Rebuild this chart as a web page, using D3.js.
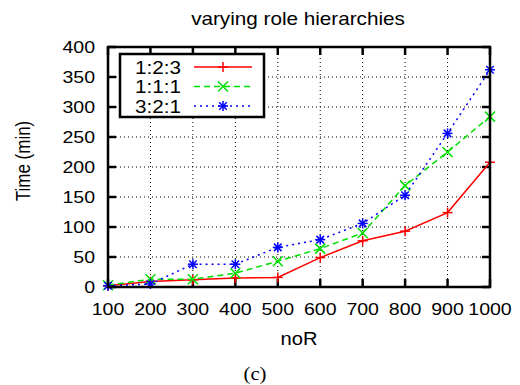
<!DOCTYPE html>
<html>
<head>
<meta charset="utf-8">
<script src="https://cdn.jsdelivr.net/npm/d3@7"></script>
<style>
  body { margin: 0; background: #fff; }
  svg { display: block; }
</style>
</head>
<body>
<div id="chart"></div>
<script>
// data
const noR = [100, 200, 300, 400, 500, 600, 700, 800, 900, 1000];
const ratio123 = [2, 9, 12, 15, 16, 49, 77, 93, 124, 208];
const ratio111 = [3, 13, 13, 23, 43, 64, 90, 169, 225, 284];
const ratio321 = [2, 5, 38, 38, 66, 79, 106, 153, 256, 362];
const seriesNames = ['1:2:3', '1:1:1', '3:2:1'];
const yTicks = [0, 50, 100, 150, 200, 250, 300, 350, 400];

const width = 520, height = 385;
const margin = { top: 47, right: 30, bottom: 98, left: 108 };
const font = 'Liberation Sans, Arial, Helvetica, sans-serif';
const stretch = 1.15; // the reference glyphs are a bit wider than Liberation Sans

const svg = d3.select('#chart').append('svg')
    .attr('width', width)
    .attr('height', height)
    .style('font-family', font);

const x = d3.scaleLinear().domain([100, 1000]).range([margin.left, width - margin.right]);
const y = d3.scaleLinear().domain([0, 400]).range([height - margin.bottom, margin.top]);

const series = [
    { name: seriesNames[0], values: ratio123, color: '#ff0000', dash: null, mark: 'plus' },
    { name: seriesNames[1], values: ratio111, color: '#00e000', dash: '6,4', mark: 'cross' },
    { name: seriesNames[2], values: ratio321, color: '#0000ff', dash: '2,4', mark: 'star' }
];

// text helper: place at (tx, ty), widen horizontally
function label(parent, tx, ty, str, size, anchor) {
    return parent.append('text')
        .attr('transform', `translate(${tx},${ty}) scale(${stretch},1)`)
        .attr('text-anchor', anchor || 'middle')
        .style('font-size', size + 'px')
        .text(str);
}

// grid
const grid = svg.append('g')
    .attr('stroke', '#000')
    .attr('stroke-width', 1)
    .attr('stroke-dasharray', '1,3');
grid.selectAll('line.v')
    .data(noR.slice(1, -1))
    .join('line')
    .attr('x1', d => x(d)).attr('x2', d => x(d))
    .attr('y1', y(0)).attr('y2', y(400));
grid.selectAll('line.h')
    .data(yTicks.slice(1, -1))
    .join('line')
    .attr('class', 'h')
    .attr('x1', x(100)).attr('x2', x(1000))
    .attr('y1', d => y(d)).attr('y2', d => y(d));

// ticks on all four sides, pointing inward
const ticks = svg.append('g').attr('stroke', '#000').attr('stroke-width', 2.5);
noR.forEach(v => {
    ticks.append('line').attr('x1', x(v)).attr('x2', x(v)).attr('y1', y(0)).attr('y2', y(0) - 8);
    ticks.append('line').attr('x1', x(v)).attr('x2', x(v)).attr('y1', y(400)).attr('y2', y(400) + 8);
});
yTicks.forEach(v => {
    ticks.append('line').attr('x1', x(100)).attr('x2', x(100) + 8).attr('y1', y(v)).attr('y2', y(v));
    ticks.append('line').attr('x1', x(1000)).attr('x2', x(1000) - 8).attr('y1', y(v)).attr('y2', y(v));
});

// tick labels
const xLabels = svg.append('g');
noR.forEach(v => label(xLabels, x(v), y(0) + 28, v, 17));
const yLabels = svg.append('g');
yTicks.forEach(v => label(yLabels, x(100) - 13, y(v) + 6, v, 17, 'end'));

// titles
label(svg, 298, 25, 'varying role hierarchies', 18);
label(svg, (x(100) + x(1000)) / 2, 345, 'noR', 17.5);

svg.append('text')
    .attr('transform', `translate(30,161) scale(${stretch},1) rotate(-90)`)
    .attr('text-anchor', 'middle')
    .style('font-size', '17px')
    .text('Time (min)');

label(svg, 255, 380, '(c)', 18)
    .style('font-family', 'Liberation Serif, Times New Roman, serif');

// point markers
function drawMark(g, kind, cx, cy, color) {
    const s = 5;
    const m = g.append('g').attr('stroke', color).attr('stroke-width', 1.5);
    if (kind === 'plus' || kind === 'star') {
        m.append('line').attr('x1', cx - s).attr('x2', cx + s).attr('y1', cy).attr('y2', cy);
        m.append('line').attr('x1', cx).attr('x2', cx).attr('y1', cy - s).attr('y2', cy + s);
    }
    if (kind === 'cross' || kind === 'star') {
        const d = kind === 'star' ? s * 0.75 : s;
        m.append('line').attr('x1', cx - d).attr('x2', cx + d).attr('y1', cy - d).attr('y2', cy + d);
        m.append('line').attr('x1', cx - d).attr('x2', cx + d).attr('y1', cy + d).attr('y2', cy - d);
    }
}

const line = d3.line().x((d, i) => x(noR[i])).y(d => y(d));
const plot = svg.append('g');
series.forEach(s => {
    plot.append('path')
        .datum(s.values)
        .attr('d', line)
        .attr('fill', 'none')
        .attr('stroke', s.color)
        .attr('stroke-width', 1.5)
        .attr('stroke-dasharray', s.dash);
    s.values.forEach((v, i) => drawMark(plot, s.mark, x(noR[i]), y(v), s.color));
});

// frame
svg.append('rect')
    .attr('x', x(100)).attr('y', y(400))
    .attr('width', x(1000) - x(100))
    .attr('height', y(0) - y(400))
    .attr('fill', 'none')
    .attr('stroke', '#000')
    .attr('stroke-width', 2.5);

// legend
const legend = svg.append('g');
legend.append('rect')
    .attr('x', 120).attr('y', 54)
    .attr('width', 144).attr('height', 63)
    .attr('fill', '#fff')
    .attr('stroke', '#000')
    .attr('stroke-width', 2.5);
series.forEach((s, i) => {
    const ly = 67 + i * 19.5;
    label(legend, 181, ly + 6.5, s.name, 18, 'end');
    legend.append('line')
        .attr('x1', 194).attr('x2', 252)
        .attr('y1', ly).attr('y2', ly)
        .attr('stroke', s.color)
        .attr('stroke-width', 1.5)
        .attr('stroke-dasharray', s.dash);
    drawMark(legend, s.mark, 223, ly, s.color);
});
</script>
</body>
</html>
